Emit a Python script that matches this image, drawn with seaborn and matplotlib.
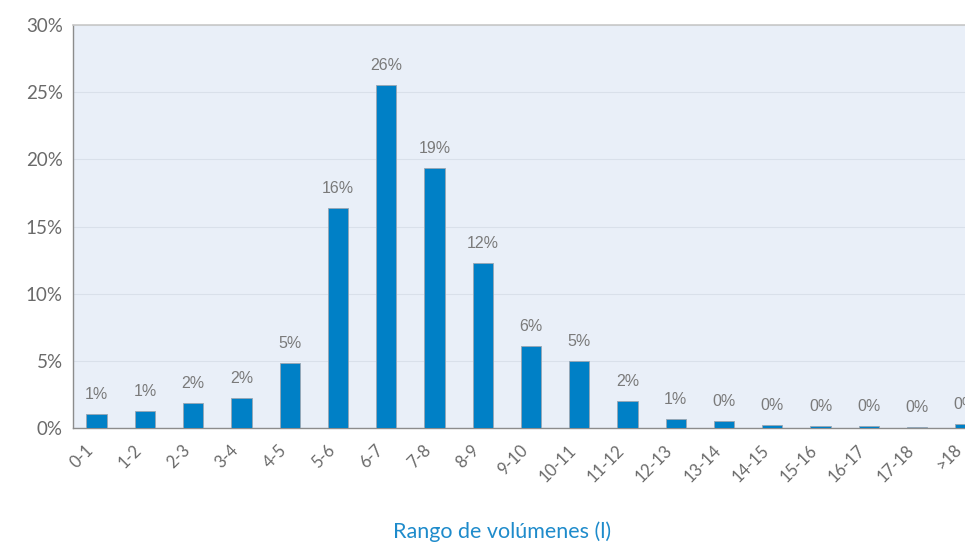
import numpy as np
import pandas as pd
import matplotlib
matplotlib.use('Agg')
import matplotlib.pyplot as plt
import seaborn as sns

# data
rangos = ['0-1', '1-2', '2-3', '3-4', '4-5', '5-6', '6-7', '7-8', '8-9', '9-10',
          '10-11', '11-12', '12-13', '13-14', '14-15', '15-16', '16-17', '17-18', '>18']
porcentaje = [1.05, 1.27, 1.88, 2.2, 4.86, 16.38, 25.54, 19.36, 12.29, 6.1,
              5.0, 2.0, 0.65, 0.52, 0.25, 0.17, 0.12, 0.07, 0.3]
etiquetas = ['1%', '1%', '2%', '2%', '5%', '16%', '26%', '19%', '12%', '6%',
             '5%', '2%', '1%', '0%', '0%', '0%', '0%', '0%', '0%']
yticks = [0, 5, 10, 15, 20, 25, 30]

df = pd.DataFrame({'rango': rangos, 'pct': porcentaje})

sns.set_style('white')
plt.rcParams['font.family'] = ['Lato', 'DejaVu Sans']

fig = plt.figure(figsize=(9.65, 5.46), dpi=100)
# axes runs past the right edge, like the cropped reference
ax = fig.add_axes([72.5 / 965, (546 - 428) / 546, 917 / 965, 403 / 546])
ax.set_facecolor('#E9EFF8')

sns.barplot(data=df, x='rango', y='pct', color='#0080C6', width=0.42,
            edgecolor='#9aa6b2', linewidth=0.6, saturation=1, ax=ax, zorder=3)

for i, (v, t) in enumerate(zip(porcentaje, etiquetas)):
    ax.text(i, v + 0.9, t, ha='center', va='bottom', fontsize=11.5,
            color='#7a7a7a', family=['Liberation Sans', 'DejaVu Sans'])

ax.set_ylim(0, 30)
ax.set_xlim(-0.5, len(rangos) - 0.5)
ax.set_yticks(yticks)
ax.set_yticklabels([f'{y}%' for y in yticks], fontsize=13.5, color='#6a6a6a')
ax.yaxis.grid(True, color='#d9e0ea', linewidth=0.8, zorder=0)
ax.xaxis.grid(False)

# labels sit a little left of the bar centre, as in the reference
ax.set_xticks(np.arange(len(rangos)) - 0.24)
ax.set_xticklabels(rangos, rotation=45, ha='right', rotation_mode='anchor',
                   fontsize=12, color='#6a6a6a')
ax.set_xticks(np.arange(-0.5, len(rangos), 1), minor=True)
ax.tick_params(axis='x', which='major', length=0, pad=10)
ax.tick_params(axis='x', which='minor', length=5, color='#8c8c8c', width=1)
ax.tick_params(axis='y', length=5, color='#8c8c8c', width=1, pad=2)

for s in ['left', 'bottom']:
    ax.spines[s].set_color('#8c8c8c')
    ax.spines[s].set_linewidth(1)
ax.spines['top'].set_color('#c8c8c8')
ax.spines['top'].set_linewidth(1.2)
ax.spines['right'].set_visible(False)
ax.set_xlabel('')
ax.set_ylabel('')

fig.text(502 / 965, 1 - 532 / 546, 'Rango de volúmenes (l)', ha='center',
         va='center', fontsize=15.5, color='#1E8BCB')

fig.savefig('out.png', dpi=100)
